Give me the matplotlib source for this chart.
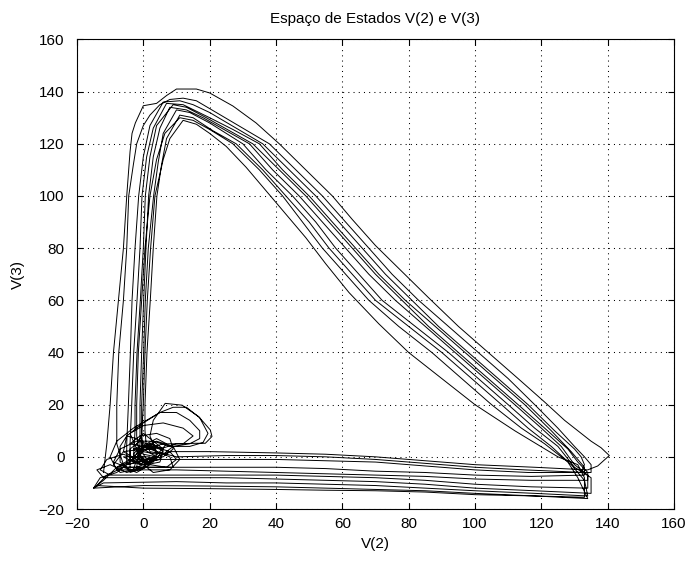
import matplotlib
matplotlib.use("Agg")
import matplotlib.pyplot as plt
import numpy as np

# (V2, V3) points of each big cycle
c1 = [(-12, -6), (-11, 5), (-10, 20), (-9, 40), (-7.5, 60), (-6, 80), (-5, 100), (-4, 117), (-3.4, 124),
      (-2.4, 128), (0, 134.6), (4, 135.5), (7, 138.5), (10, 141), (16, 141), (20, 139.5), (27, 134.5),
      (34, 128), (41, 120), (49, 110), (57, 100), (63, 91), (70, 81), (78, 71), (86, 61), (95, 50),
      (104, 40), (113, 30), (121, 21), (127, 14), (132, 9), (135, 6), (138, 3.5), (140.5, 0.5),
      (137, -3.5), (134, -5), (118, -4), (100, -3), (85, -1.5), (70, 0), (55, 1), (40, 1.5), (20, 2),
      (8, 2), (3, 4), (-1, 6), (-4, 3), (-4, -1), (-1, -3), (3, -2), (5, 1), (3, 3), (-3, 3), (2, 5),
      (6, 3), (5, -1), (0, -2), (-3, 1), (-1, 4), (3, 4), (4, 1), (0, 2)]
c2 = [(0, 2), (-3, -1), (-6, -3), (-8, 5), (-8, 20), (-7.4, 40), (-6, 60), (-5, 80), (-4.4, 100),
      (-3, 112), (-2, 120), (0, 127), (2, 131), (5, 135), (8, 137), (12, 137.5), (16, 136.5), (22, 132),
      (30, 126), (38, 120), (46, 110), (54, 100), (61, 90), (68, 80), (75, 70), (83, 60), (92, 50),
      (101, 40), (110, 30), (118, 20), (125, 11), (130, 4), (133, 0), (135, -3), (135, -6), (133, -6),
      (115, -5), (100, -4), (85, -2.5), (70, -1), (55, 0), (40, 0.5), (25, 0.5), (10, 0), (4, 2), (2, 8),
      (3, 14), (6.6, 20.5), (11.7, 19.8), (16.7, 15.4), (20.2, 10.3), (20.7, 7.8), (18.7, 5.2),
      (15.7, 5.2), (10, 5), (5, 3), (1, 4), (-2, 7), (-5, 8), (-7, 4), (-7, -2), (-4, -5), (0, -4),
      (3, 0)]
c3 = [(3, 0), (-1, -2), (-5, -3), (-5, 5), (-4.5, 20), (-3.9, 40), (-3.4, 60), (-2.5, 80), (-1.4, 100),
      (0, 115), (2, 127), (6, 136), (11, 136.5), (15, 135), (20, 132), (28, 126), (36, 120), (44, 110),
      (52, 100), (59, 90), (66, 80), (73, 70), (81, 60), (89, 50), (98, 40), (107, 30), (116, 20),
      (124, 10), (130, 3), (132, 0), (133, -3), (132, -6), (116, -6), (100, -5), (85, -3.5), (70, -2),
      (55, -1.5), (40, -1), (25, -1), (10, -1), (-2, -1), (-6, 2), (-5, 8), (0, 13), (5, 17), (9, 19),
      (13, 19), (17, 15), (19.5, 9), (18, 5.5), (14, 4), (8, 4), (3, 6), (0, 9), (-2, 5), (0, 1), (4, 0)]
c4 = [(4, 0), (1, -4), (-4, -6), (-4, 5), (-3.5, 20), (-2.9, 40), (-1.9, 60), (-1, 80), (-0.4, 100),
      (1, 115), (3, 126), (7, 135.5), (12, 135), (20, 130), (27, 125.5), (35, 120), (42, 110), (50, 100),
      (57, 90), (64, 80), (71, 70), (79, 60), (88, 50), (97, 40), (106, 30), (115, 20), (123, 10),
      (129, 2), (131, -1), (133, -4), (133, -7), (117, -7.5), (100, -7), (85, -6), (70, -5.5), (55, -4.5),
      (40, -4), (25, -4), (10, -4), (-5, -4), (-9, -2), (-7, 3), (-2, 6), (3, 6), (6, 3), (5, -1),
      (1, -2), (-2, 1), (0, 4), (3, 3), (-4, 5), (-1, 8), (4, 9), (8, 7), (9, 3), (6, 0), (1, -1),
      (-3, -2), (-6, 0), (2, 0)]
c5 = [(2, 0), (-1, -3), (-3, -1), (-2.5, 10), (-2.5, 20), (-1.9, 40), (-0.9, 60), (0, 80), (0.6, 100),
      (2, 115), (4, 127), (9, 135), (13, 134), (19, 130), (26, 125), (33, 120), (41, 110), (49, 100),
      (56, 90), (63, 80), (70, 70), (78, 60), (86, 50), (95, 40), (104, 30), (113, 20), (121, 11),
      (128, 3), (131, -2), (134, -6), (134, -9), (117, -9), (100, -8.5), (85, -7.5), (70, -7), (55, -6.5),
      (40, -6), (25, -5.5), (10, -5), (-8, -5), (-10, 0), (-8, 6), (-3, 11), (1, 14), (5, 17), (10, 17),
      (14, 14), (17, 10), (17, 7), (14, 5), (9, 4), (6, 1), (2, 2), (1, 5), (4, 7), (7, 5), (5, 2)]
c6 = [(5, 2), (2, -2), (-2, -4), (-1, 5), (-1, 20), (-0.5, 40), (0.1, 60), (0.8, 80), (1.6, 100),
      (3, 115), (5, 126), (8, 134), (13, 133), (18, 130), (25, 125), (32, 120), (39, 110), (47, 100),
      (54, 90), (61, 80), (68, 70), (76, 60), (85, 50), (94, 40), (103, 30), (112, 20), (120, 11),
      (126, 4), (130, -3), (134, -7), (134, -12), (117, -11.5), (100, -10.5), (85, -9), (70, -8),
      (55, -7.5), (40, -7), (25, -7), (10, -7), (-10, -7), (-13, -5), (-11, -1), (-6, 1), (-2, -1),
      (-3, -5), (-7, -6), (-9, -3), (-6, 2), (0, 3), (4, 0), (-8, -4), (9, -4), (8, 0), (2, 3), (-2, 2),
      (2, -3)]
c7 = [(2, -3), (-1, -1), (-0.5, 5), (-0.5, 20), (0.1, 40), (0.6, 60), (1.5, 80), (3.1, 100), (4.5, 113),
      (6, 124), (10, 133), (14, 132), (20, 128), (25, 124), (30, 120), (37, 110), (45, 100), (52, 90),
      (58, 80), (65, 70), (72, 60), (82, 50), (92, 40), (101, 30), (110, 20), (118, 11), (125, 4),
      (130, -4), (135, -8), (135, -14), (118, -13), (100, -12), (85, -10.5), (70, -9.5), (55, -9),
      (40, -8.5), (25, -8), (10, -8), (-12, -8), (-14, -5), (-10, -3), (-5, -6), (0, -4), (4, 0), (8, 2),
      (10, -1), (7, -4), (2, -3), (-1, 0), (-4, 9), (0, 12), (6, 13), (12, 11), (15, 8), (12, 5),
      (6, 5), (1, 3)]
c8 = [(1, 3), (0.5, 10), (0.5, 20), (1.1, 40), (2.1, 60), (3, 80), (4.1, 100), (5.5, 112), (7, 122),
      (11, 131), (15, 130), (21, 125), (28, 120), (36, 110), (43, 100), (50, 90), (56, 80), (63, 70),
      (70, 60), (80, 50), (90, 40), (99, 30), (108, 20), (116, 11), (123, 4), (129, -3), (133, -9),
      (134, -15), (118, -14), (100, -13), (85, -12), (70, -11), (55, -10.5), (40, -10), (25, -10),
      (10, -9.5), (-12, -10), (-15, -12), (-12, -9), (-8, -4), (-4, -1), (0, -3), (3, -6), (8, -5),
      (11, -1), (9, 4), (4, 6), (0, 4), (-1, 0)]
c9 = [(-1, 0), (-2, 8), (-2, 20), (-1.5, 40), (-0.5, 60), (0.5, 80), (2, 100), (4, 114), (6.5, 124),
      (11, 130), (15, 129), (20, 125.5), (27, 120), (35, 110), (42, 100), (48, 90), (54, 80), (61, 70),
      (68, 60), (77, 50), (87, 40), (96, 30), (105, 20), (114, 11), (121, 5), (128, -2), (131, -8),
      (134, -16), (118, -15), (100, -14), (85, -13), (70, -12.5), (55, -12), (40, -11.5), (20, -11.2),
      (0, -11), (-15, -12), (-13, -8), (-8, -6), (-4, -2), (-1, 3), (3, 5), (6, 2), (5, -2), (1, -3),
      (-2, 0), (0, 2)]
c10 = [(0, 2), (-0.5, 8), (0, 20), (0.5, 40), (1.2, 60), (2.2, 80), (3.5, 100), (6, 114), (8, 122),
       (12, 129), (16, 127.5), (20, 124), (25, 119), (31, 111), (37, 102), (43, 93), (49, 84), (55, 74),
       (62, 63), (71, 51), (80, 40), (90, 30), (100, 20), (112, 10), (125, 0), (131, -3), (133, -8),
       (133, -15.5), (118, -15), (100, -14.5), (85, -13.5), (70, -13), (55, -12.8), (40, -12.5),
       (20, -12.2), (0, -12), (-14, -11), (-11, -7), (-6, -4), (-2, -6), (2, -3), (0, 1)]

cycles = [c1, c2, c3, c4, c5, c6, c7, c8, c9, c10]
traj = np.array([p for c in cycles for p in c])
v2 = traj[:, 0]
v3 = traj[:, 1]

plt.rcParams['font.family'] = ['Liberation Sans', 'DejaVu Sans']
plt.rcParams['font.size'] = 11

fig = plt.figure(figsize=(6.91, 5.63), dpi=100)
ax = fig.add_axes([0.1114, 0.0959, 0.864, 0.834])
ax.plot(v2, v3, color='k', linewidth=0.7)

ax.set_xlim(-20, 160)
ax.set_ylim(-20, 160)
ax.set_xticks(np.arange(-20, 161, 20))
ax.set_yticks(np.arange(-20, 161, 20))
ax.grid(True, color='k', linestyle=(0, (1, 4)), linewidth=0.75)
ax.tick_params(direction='in', length=4, width=0.8, top=True, right=True, labelsize=11)
ax.tick_params(axis='y', pad=9)
ax.tick_params(axis='x', pad=6)
for s in ax.spines.values():
    s.set_linewidth(0.8)

ax.set_title('Espaço de Estados V(2) e V(3)', fontsize=11, pad=12)
ax.set_xlabel('V(2)', labelpad=4)
ax.set_ylabel('V(3)', labelpad=10)

fig.savefig('out.png', dpi=100)
